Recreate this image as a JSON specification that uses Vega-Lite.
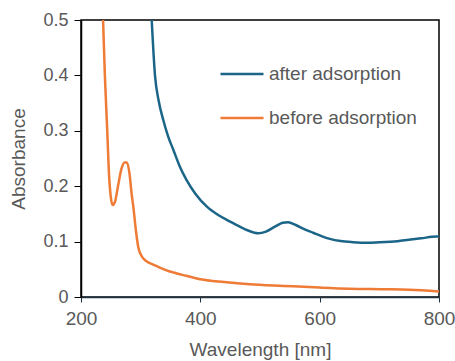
{
  "$schema": "https://vega.github.io/schema/vega-lite/v6.json",
  "width": 358,
  "height": 277,
  "autosize": {"type": "none"},
  "padding": {"left": 81, "top": 20, "right": 16, "bottom": 64},
  "background": "white",
  "config": {
    "font": "Liberation Sans",
    "view": {"stroke": "black", "strokeWidth": 1.5},
    "axis": {"grid": false, "labelColor": "#595959", "titleColor": "#595959", "labelFont": "Liberation Sans", "titleFont": "Liberation Sans", "titleFontWeight": "normal"}
  },
  "data": {
    "values": [
      {"series": "after adsorption", "nm": 314, "abs": 0.6},
      {"series": "after adsorption", "nm": 318.5, "abs": 0.5},
      {"series": "after adsorption", "nm": 324, "abs": 0.4},
      {"series": "after adsorption", "nm": 330, "abs": 0.355},
      {"series": "after adsorption", "nm": 338, "abs": 0.319},
      {"series": "after adsorption", "nm": 346, "abs": 0.29},
      {"series": "after adsorption", "nm": 355, "abs": 0.265},
      {"series": "after adsorption", "nm": 365, "abs": 0.237},
      {"series": "after adsorption", "nm": 377, "abs": 0.211},
      {"series": "after adsorption", "nm": 392, "abs": 0.186},
      {"series": "after adsorption", "nm": 411, "abs": 0.163},
      {"series": "after adsorption", "nm": 430, "abs": 0.148},
      {"series": "after adsorption", "nm": 450, "abs": 0.136},
      {"series": "after adsorption", "nm": 466, "abs": 0.127},
      {"series": "after adsorption", "nm": 480, "abs": 0.12},
      {"series": "after adsorption", "nm": 497, "abs": 0.115},
      {"series": "after adsorption", "nm": 510, "abs": 0.118},
      {"series": "after adsorption", "nm": 525, "abs": 0.127},
      {"series": "after adsorption", "nm": 538, "abs": 0.134},
      {"series": "after adsorption", "nm": 547, "abs": 0.135},
      {"series": "after adsorption", "nm": 560, "abs": 0.13},
      {"series": "after adsorption", "nm": 575, "abs": 0.122},
      {"series": "after adsorption", "nm": 589, "abs": 0.116},
      {"series": "after adsorption", "nm": 603, "abs": 0.11},
      {"series": "after adsorption", "nm": 617, "abs": 0.105},
      {"series": "after adsorption", "nm": 635, "abs": 0.101},
      {"series": "after adsorption", "nm": 656, "abs": 0.099},
      {"series": "after adsorption", "nm": 680, "abs": 0.098},
      {"series": "after adsorption", "nm": 701, "abs": 0.099},
      {"series": "after adsorption", "nm": 725, "abs": 0.1},
      {"series": "after adsorption", "nm": 746, "abs": 0.103},
      {"series": "after adsorption", "nm": 770, "abs": 0.106},
      {"series": "after adsorption", "nm": 796, "abs": 0.109},
      {"series": "after adsorption", "nm": 800, "abs": 0.109},
      {"series": "before adsorption", "nm": 234, "abs": 0.6},
      {"series": "before adsorption", "nm": 237, "abs": 0.5},
      {"series": "before adsorption", "nm": 240, "abs": 0.4},
      {"series": "before adsorption", "nm": 244, "abs": 0.3},
      {"series": "before adsorption", "nm": 247, "abs": 0.22},
      {"series": "before adsorption", "nm": 250, "abs": 0.18},
      {"series": "before adsorption", "nm": 253, "abs": 0.166},
      {"series": "before adsorption", "nm": 257, "abs": 0.172},
      {"series": "before adsorption", "nm": 262, "abs": 0.2},
      {"series": "before adsorption", "nm": 268, "abs": 0.232},
      {"series": "before adsorption", "nm": 273, "abs": 0.243},
      {"series": "before adsorption", "nm": 277, "abs": 0.243},
      {"series": "before adsorption", "nm": 281, "abs": 0.225},
      {"series": "before adsorption", "nm": 285, "abs": 0.185},
      {"series": "before adsorption", "nm": 288, "abs": 0.16},
      {"series": "before adsorption", "nm": 292, "abs": 0.12},
      {"series": "before adsorption", "nm": 296, "abs": 0.09},
      {"series": "before adsorption", "nm": 301, "abs": 0.075},
      {"series": "before adsorption", "nm": 306, "abs": 0.068},
      {"series": "before adsorption", "nm": 312, "abs": 0.063},
      {"series": "before adsorption", "nm": 320, "abs": 0.059},
      {"series": "before adsorption", "nm": 332, "abs": 0.053},
      {"series": "before adsorption", "nm": 349, "abs": 0.046},
      {"series": "before adsorption", "nm": 370, "abs": 0.04},
      {"series": "before adsorption", "nm": 400, "abs": 0.032},
      {"series": "before adsorption", "nm": 440, "abs": 0.027},
      {"series": "before adsorption", "nm": 483, "abs": 0.023},
      {"series": "before adsorption", "nm": 540, "abs": 0.02},
      {"series": "before adsorption", "nm": 600, "abs": 0.017},
      {"series": "before adsorption", "nm": 650, "abs": 0.015},
      {"series": "before adsorption", "nm": 706, "abs": 0.014},
      {"series": "before adsorption", "nm": 750, "abs": 0.013},
      {"series": "before adsorption", "nm": 800, "abs": 0.01}
    ]
  },
  "mark": {"type": "line", "clip": true, "strokeWidth": 2.5, "interpolate": "monotone"},
  "encoding": {
    "x": {
      "field": "nm", "type": "quantitative",
      "scale": {"domain": [200, 800], "nice": false, "zero": false},
      "axis": {"values": [200, 400, 600, 800], "title": "Wavelength [nm]", "titleFontSize": 19, "labelFontSize": 19, "tickSize": 5, "tickColor": "#1f3545", "domainColor": "#1f3545", "domainWidth": 1.5, "labelPadding": 7, "titlePadding": 12, "labelFlush": false}
    },
    "y": {
      "field": "abs", "type": "quantitative",
      "scale": {"domain": [0, 0.5], "nice": false},
      "axis": {"values": [0, 0.1, 0.2, 0.3, 0.4, 0.5], "format": ".1~f", "title": "Absorbance", "titleFontSize": 19, "labelFontSize": 18, "tickSize": 7, "tickColor": "black", "domainColor": "black", "domainWidth": 1.5, "labelPadding": 6, "titlePadding": 14}
    },
    "color": {
      "field": "series", "type": "nominal",
      "scale": {"domain": ["after adsorption", "before adsorption"], "range": ["#1b6588", "#ee7b36"]},
      "legend": {"title": null, "orient": "none", "legendX": 138, "legendY": 31, "symbolType": "stroke", "symbolSize": 1849, "symbolStrokeWidth": 2.5, "labelFontSize": 19, "labelColor": "#595959", "labelOffset": 4, "rowPadding": 11, "padding": 0, "labelFont": "Liberation Sans"}
    }
  }
}
